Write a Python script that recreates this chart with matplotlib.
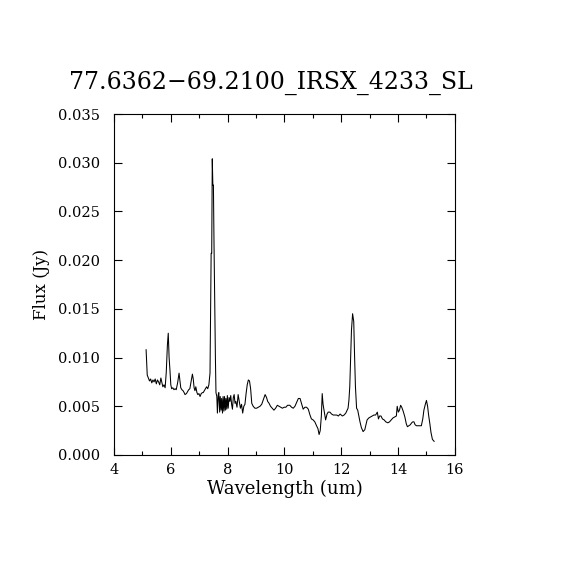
import numpy as np
import matplotlib
matplotlib.use('Agg')
import matplotlib.pyplot as plt
import matplotlib.ticker as ticker


title = "77.6362\u221269.2100_IRSX_4233_SL"
xlabel = "Wavelength (um)"
ylabel = "Flux (Jy)"

# spectrum (12 points per row in both lists)
wave = [5.13, 5.15, 5.17, 5.21, 5.25, 5.29, 5.33, 5.37, 5.41, 5.45, 5.49, 5.53,
        5.57, 5.61, 5.65, 5.68, 5.72, 5.76, 5.80, 5.84, 5.88, 5.91, 5.94, 5.97,
        6.00, 6.03, 6.07, 6.11, 6.15, 6.19, 6.24, 6.29, 6.32, 6.35, 6.39, 6.43,
        6.47, 6.50, 6.55, 6.59, 6.63, 6.67, 6.72, 6.76, 6.79, 6.82, 6.85, 6.88,
        6.92, 6.95, 6.99, 7.03, 7.07, 7.11, 7.14, 7.18, 7.22, 7.26, 7.30, 7.34,
        7.38, 7.40, 7.42, 7.44, 7.46, 7.48, 7.50, 7.52, 7.55, 7.57, 7.59, 7.62,
        7.64, 7.67, 7.69, 7.72, 7.74, 7.77, 7.79, 7.82, 7.84, 7.87, 7.89, 7.92,
        7.94, 7.97, 7.99, 8.02, 8.05, 8.08, 8.11, 8.14, 8.17, 8.20, 8.23, 8.26,
        8.29, 8.33, 8.37, 8.41, 8.45, 8.49, 8.53, 8.57, 8.61, 8.65, 8.69, 8.73,
        8.77, 8.81, 8.85, 8.90, 8.96, 9.02, 9.08, 9.14, 9.20, 9.26, 9.32, 9.37,
        9.41, 9.46, 9.51, 9.57, 9.63, 9.69, 9.75, 9.81, 9.87, 9.93, 9.99, 10.05,
        10.11, 10.19, 10.25, 10.31, 10.37, 10.43, 10.49, 10.55, 10.61, 10.66, 10.72, 10.78,
        10.84, 10.90, 10.95, 11.01, 11.07, 11.13, 11.18, 11.22, 11.26, 11.30, 11.33, 11.36,
        11.40, 11.45, 11.50, 11.54, 11.60, 11.66, 11.72, 11.78, 11.84, 11.90, 11.96, 12.04,
        12.10, 12.16, 12.24, 12.27, 12.30, 12.33, 12.36, 12.40, 12.44, 12.47, 12.50, 12.54,
        12.58, 12.62, 12.66, 12.71, 12.77, 12.83, 12.91, 12.97, 13.03, 13.09, 13.15, 13.21,
        13.27, 13.31, 13.35, 13.40, 13.45, 13.51, 13.57, 13.64, 13.70, 13.76, 13.82, 13.88,
        13.94, 13.97, 14.01, 14.05, 14.09, 14.13, 14.18, 14.24, 14.29, 14.33, 14.38, 14.43,
        14.48, 14.52, 14.56, 14.60, 14.65, 14.70, 14.76, 14.82, 14.87, 14.91, 14.96, 15.00,
        15.04, 15.08, 15.12, 15.16, 15.21, 15.27]
flux = [0.0108, 0.0096, 0.0082, 0.0079, 0.0076, 0.0078, 0.0074, 0.0077, 0.0075, 0.0078, 0.0073, 0.0077,
        0.0075, 0.0072, 0.0079, 0.0075, 0.0070, 0.0072, 0.0069, 0.0085, 0.0113, 0.0125, 0.0100, 0.0087,
        0.0072, 0.0068, 0.0069, 0.0067, 0.0068, 0.0067, 0.0074, 0.0084, 0.0076, 0.0069, 0.0067, 0.0066,
        0.0064, 0.0062, 0.0063, 0.0065, 0.0067, 0.0068, 0.0076, 0.0083, 0.0078, 0.0069, 0.0066, 0.0070,
        0.0064, 0.0062, 0.0063, 0.0060, 0.0063, 0.0064, 0.0064, 0.0066, 0.0068, 0.0070, 0.0068, 0.0072,
        0.0084, 0.0146, 0.0207, 0.0207, 0.0304, 0.0277, 0.0277, 0.0219, 0.0146, 0.0100, 0.0064, 0.0060,
        0.0043, 0.0062, 0.0064, 0.0044, 0.0060, 0.0046, 0.0058, 0.0043, 0.0060, 0.0045, 0.0060, 0.0046,
        0.0058, 0.0047, 0.0061, 0.0048, 0.0059, 0.0055, 0.0061, 0.0052, 0.0047, 0.0059, 0.0062, 0.0053,
        0.0055, 0.0049, 0.0062, 0.0055, 0.0048, 0.0052, 0.0043, 0.0050, 0.0052, 0.0063, 0.0072, 0.0077,
        0.0076, 0.0068, 0.0053, 0.0050, 0.0048, 0.0048, 0.0049, 0.0050, 0.0052, 0.0057, 0.0062, 0.0059,
        0.0055, 0.0053, 0.0050, 0.0048, 0.0046, 0.0048, 0.0051, 0.0050, 0.0049, 0.0048, 0.0049, 0.0049,
        0.0051, 0.0051, 0.0049, 0.0048, 0.0050, 0.0054, 0.0058, 0.0058, 0.0052, 0.0047, 0.0049, 0.0049,
        0.0047, 0.0041, 0.0037, 0.0036, 0.0034, 0.0030, 0.0027, 0.0021, 0.0025, 0.0040, 0.0063, 0.0052,
        0.0045, 0.0036, 0.0042, 0.0044, 0.0044, 0.0042, 0.0041, 0.0041, 0.0041, 0.0040, 0.0042, 0.0040,
        0.0041, 0.0043, 0.0048, 0.0056, 0.0070, 0.0100, 0.0128, 0.0145, 0.0137, 0.0101, 0.0070, 0.0048,
        0.0046, 0.0040, 0.0034, 0.0028, 0.0024, 0.0026, 0.0036, 0.0038, 0.0039, 0.0040, 0.0041, 0.0041,
        0.0044, 0.0037, 0.0040, 0.0040, 0.0037, 0.0036, 0.0034, 0.0033, 0.0034, 0.0036, 0.0038, 0.0039,
        0.0040, 0.0050, 0.0044, 0.0046, 0.0051, 0.0049, 0.0045, 0.0039, 0.0032, 0.0029, 0.0030, 0.0031,
        0.0033, 0.0034, 0.0034, 0.0031, 0.0030, 0.0030, 0.0030, 0.0030, 0.0037, 0.0046, 0.0052, 0.0056,
        0.0050, 0.0040, 0.0032, 0.0023, 0.0016, 0.0014]


def plot_spectrum():
    plt.rcParams['font.family'] = ['DejaVu Serif']

    fig = plt.figure(figsize=(5.7, 5.7), dpi=100)
    ax = fig.add_axes([0.2, 0.2018, 0.598, 0.5982])

    ax.plot(wave, flux, color='black', lw=0.75)

    ax.set_xlim(4, 16)
    ax.set_ylim(0.0, 0.035)
    ax.xaxis.set_major_locator(ticker.MultipleLocator(2))
    ax.xaxis.set_minor_locator(ticker.MultipleLocator(1))
    ax.yaxis.set_major_locator(ticker.MultipleLocator(0.005))
    ax.yaxis.set_major_formatter(ticker.FormatStrFormatter('%.3f'))

    ax.tick_params(which='both', direction='in', top=True, right=True,
                   width=0.8, labelsize=10.5)
    ax.tick_params(axis='x', pad=6)
    ax.tick_params(axis='y', pad=10)
    ax.tick_params(which='major', length=6)
    ax.tick_params(which='minor', length=3)
    for s in ax.spines.values():
        s.set_linewidth(0.8)

    ax.set_xlabel(xlabel, fontsize=13, labelpad=2)
    ax.set_ylabel(ylabel, fontsize=12, labelpad=6)
    fig.text(271 / 570, 1 - 83 / 570, title, fontsize=17, ha='center', va='center')

    fig.savefig('out.png', dpi=100)


if __name__ == "__main__":
    plot_spectrum()
